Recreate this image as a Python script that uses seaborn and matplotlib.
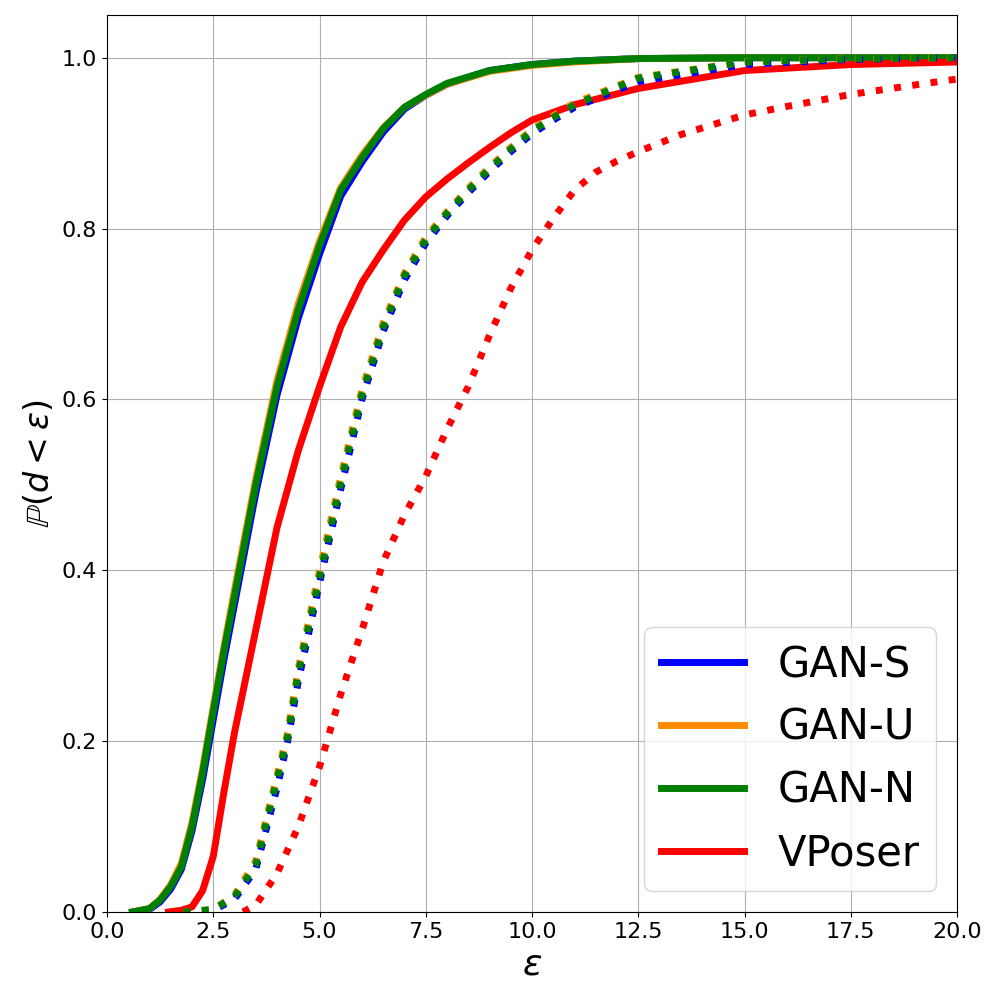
import matplotlib
matplotlib.use("Agg")
import matplotlib.pyplot as plt
import seaborn as sns

# epsilon grid shared by the solid GAN curves
eps_gan_solid = [0.6, 1.0, 1.25, 1.5, 1.75, 2.0, 2.25, 2.5, 2.75, 3.0, 3.5, 4.0, 4.5,
                 5.0, 5.5, 6.0, 6.5, 7.0, 7.5, 8.0, 9.0, 10.0, 11.0, 12.5, 15.0, 17.5, 20.0]
gan_s_solid = [0.0, 0.003, 0.012, 0.027, 0.05, 0.095, 0.155, 0.225, 0.295, 0.36, 0.49, 0.605, 0.695,
               0.77, 0.838, 0.878, 0.913, 0.94, 0.956, 0.969, 0.985, 0.992, 0.996, 0.999, 1.0, 1.0, 1.0]
gan_u_solid = [0.0, 0.004, 0.015, 0.032, 0.057, 0.105, 0.168, 0.24, 0.31, 0.377, 0.507, 0.622, 0.712,
               0.785, 0.848, 0.886, 0.918, 0.942, 0.956, 0.969, 0.984, 0.991, 0.995, 0.999, 1.0, 1.0, 1.0]
gan_n_solid = [0.0, 0.004, 0.014, 0.03, 0.053, 0.1, 0.163, 0.235, 0.305, 0.37, 0.5, 0.615, 0.705,
               0.78, 0.845, 0.883, 0.917, 0.942, 0.957, 0.97, 0.985, 0.992, 0.996, 0.999, 1.0, 1.0, 1.0]

eps_vposer_solid = [1.45, 1.75, 2.0, 2.25, 2.5, 2.75, 3.0, 3.5, 4.0, 4.5, 5.0, 5.5, 6.0, 6.5,
                    7.0, 7.5, 8.0, 8.5, 9.0, 9.5, 10.0, 11.0, 12.5, 15.0, 17.5, 20.0]
vposer_solid = [0.0, 0.002, 0.006, 0.025, 0.065, 0.14, 0.21, 0.33, 0.45, 0.54, 0.615, 0.685, 0.737, 0.775,
                0.81, 0.837, 0.858, 0.877, 0.895, 0.912, 0.927, 0.945, 0.964, 0.985, 0.992, 0.995]

eps_gan_dotted = [1.8, 2.5, 3.0, 3.5, 4.0, 4.25, 4.5, 5.0, 5.5, 6.0, 6.5, 7.0, 7.5, 8.0, 8.5,
                  9.0, 9.5, 10.0, 10.5, 11.0, 12.5, 15.0, 17.5, 20.0]
gan_s_dotted = [0.0, 0.002, 0.015, 0.05, 0.145, 0.2, 0.27, 0.385, 0.495, 0.6, 0.68, 0.74, 0.783, 0.815, 0.842,
                0.867, 0.89, 0.911, 0.927, 0.942, 0.972, 0.992, 0.998, 1.0]
gan_u_dotted = [0.0, 0.003, 0.02, 0.06, 0.16, 0.21, 0.285, 0.4, 0.51, 0.612, 0.69, 0.748, 0.79, 0.82, 0.847,
                0.872, 0.895, 0.916, 0.932, 0.947, 0.977, 0.995, 0.999, 1.0]
gan_n_dotted = [0.0, 0.003, 0.018, 0.055, 0.155, 0.205, 0.28, 0.392, 0.503, 0.606, 0.685, 0.745, 0.787, 0.818,
                0.845, 0.87, 0.893, 0.914, 0.93, 0.945, 0.976, 0.995, 0.999, 1.0]

eps_vposer_dotted = [3.2, 3.5, 4.0, 4.5, 5.0, 5.5, 6.0, 6.5, 7.0, 7.5, 8.0, 8.5, 9.0, 9.5, 10.0,
                     10.5, 11.0, 11.5, 12.0, 12.5, 13.5, 15.0, 16.0, 17.5, 19.0, 20.0]
vposer_dotted = [0.0, 0.008, 0.045, 0.1, 0.17, 0.255, 0.33, 0.41, 0.465, 0.51, 0.565, 0.615, 0.675, 0.73, 0.775,
                 0.812, 0.845, 0.866, 0.879, 0.89, 0.91, 0.933, 0.943, 0.957, 0.968, 0.975]

labels = ["GAN-S", "GAN-U", "GAN-N", "VPoser"]
colors = ["blue", "darkorange", "green", "red"]

solid_curves = [(eps_gan_solid, gan_s_solid), (eps_gan_solid, gan_u_solid),
                (eps_gan_solid, gan_n_solid), (eps_vposer_solid, vposer_solid)]
dotted_curves = [(eps_gan_dotted, gan_s_dotted), (eps_gan_dotted, gan_u_dotted),
                 (eps_gan_dotted, gan_n_dotted), (eps_vposer_dotted, vposer_dotted)]


def main():
    fig = plt.figure(figsize=(10, 10), dpi=100)
    ax = fig.add_axes([0.107, 0.088, 0.85, 0.897])

    handles = []
    for (x, y), color, label in zip(solid_curves, colors, labels):
        sns.lineplot(x=x, y=y, ax=ax, color=color, lw=5, linestyle='-', sort=False)
        handles.append(ax.lines[-1])
        handles[-1].set_label(label)
    for (x, y), color in zip(dotted_curves, colors):
        sns.lineplot(x=x, y=y, ax=ax, color=color, lw=5, linestyle=':', sort=False)

    ax.set_xlim(0, 20)
    ax.set_ylim(0, 1.05)
    ax.set_xticks([0, 2.5, 5, 7.5, 10, 12.5, 15, 17.5, 20])
    ax.set_yticks([0, 0.2, 0.4, 0.6, 0.8, 1.0])
    ax.grid(True, color='#b0b0b0', lw=0.8)
    ax.set_axisbelow(True)
    ax.tick_params(labelsize=16)
    ax.set_xlabel(r'$\varepsilon$', fontsize=26)
    ax.set_ylabel(r'$\mathbb{P}(d < \varepsilon)$', fontsize=24)
    ax.legend(handles=handles, loc='lower right', fontsize=30)

    fig.savefig('out.png', dpi=100)


if __name__ == '__main__':
    main()
